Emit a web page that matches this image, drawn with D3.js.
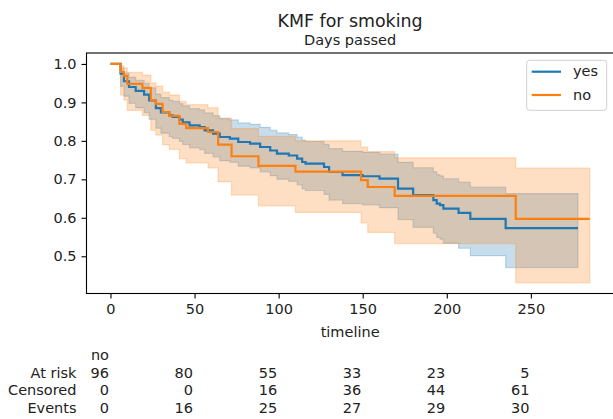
<!DOCTYPE html>
<html>
<head>
<meta charset="utf-8">
<script src="https://cdn.jsdelivr.net/npm/d3@7/dist/d3.min.js"></script>
<style>
  html, body { margin: 0; padding: 0; background: #fff; }
  svg { display: block; font-family: "DejaVu Sans", sans-serif; }
</style>
</head>
<body>
<svg id="chart" width="613" height="419"></svg>
<script>
// Kaplan-Meier estimates per smoking group (step times in days)
const yesTimes = [0, 6, 8, 11, 15, 20, 23, 27, 30, 35, 37, 41, 43, 47, 53, 56, 61, 65, 71, 76, 83, 89, 95, 99, 106, 111, 114, 116, 127, 130, 138, 150, 160, 171, 180, 192, 194, 196, 198, 207, 214, 235];
const yesSurvival = [1, .975, .955, .94, .93, .92, .905, .885, .874, .866, .862, .855, .848, .840, .836, .827, .819, .810, .806, .797, .793, .784, .775, .767, .762, .754, .745, .741, .732, .719, .711, .708, .702, .676, .659, .646, .637, .633, .624, .613, .597, .573];
const yesLower = [1, .9417, .9161, .8976, .8855, .8736, .8561, .833, .820, .8112, .8065, .7985, .7906, .7818, .7774, .7675, .7586, .7486, .7442, .7342, .7297, .7195, .7094, .7004, .6948, .6857, .6755, .671, .6607, .646, .6369, .6333, .6262, .5953, .5753, .5598, .5491, .5445, .534, .5208, .5016, .4702];
const yesUpper = [1, .9894, .9761, .9652, .9576, .9498, .9379, .9215, .9126, .9058, .9026, .8966, .8907, .8837, .8803, .8726, .8656, .8578, .8544, .8465, .8431, .8353, .8276, .8207, .8164, .8095, .8018, .7984, .7907, .7796, .7727, .7703, .7653, .7441, .7301, .7196, .7122, .7089, .7015, .6927, .680, .663];
const yesEnd = 278;

const noTimes = [0, 6, 8, 10, 19, 24, 27, 31, 35, 41, 45, 58, 64, 72, 88, 110, 149, 153, 169, 241];
const noSurvival = [1, .979, .969, .948, .9375, .906, .896, .875, .865, .844, .833, .823, .790, .760, .735, .720, .698, .680, .657, .597];
const noLower = [1, .919, .906, .879, .866, .8275, .815, .790, .778, .754, .7425, .730, .694, .659, .631, .614, .587, .562, .533, .431];
const noUpper = [1, .995, .990, .978, .971, .950, .9425, .927, .919, .903, .894, .886, .859, .832, .812, .800, .784, .772, .756, .729];
const noEnd = 285;

// At-risk table for the "no" group
const tableTicks = [0, 50, 100, 150, 200, 250];
const atRisk = [96, 80, 55, 33, 23, 5];
const censored = [0, 0, 16, 36, 44, 61];
const events = [0, 16, 25, 27, 29, 30];

const yTicks = [0.5, 0.6, 0.7, 0.8, 0.9, 1.0];

const BLUE = "#1f77b4", ORANGE = "#ff7f0e";
const FONT = 14.5;

const svg = d3.select("#chart");
svg.append("rect").attr("width", 613).attr("height", 419).attr("fill", "#fff");

const plotL = 86.5, plotR = 613.7, plotT = 53, plotB = 293.5;
const x = d3.scaleLinear().domain([-14.25, 299.25]).range([plotL, plotR]);
const y = d3.scaleLinear().domain([0.4032, 1.0284]).range([plotB, plotT]);

function toRows(times, s, lo, hi, end) {
  const rows = times.map((t, i) => ({ t, s: s[i], lo: lo[i], hi: hi[i] }));
  const last = rows[rows.length - 1];
  rows.push({ t: end, s: last.s, lo: last.lo, hi: last.hi });
  return rows;
}

const groups = [
  { name: "yes", color: BLUE, rows: toRows(yesTimes, yesSurvival, yesLower, yesUpper, yesEnd) },
  { name: "no", color: ORANGE, rows: toRows(noTimes, noSurvival, noLower, noUpper, noEnd) }
];

svg.append("clipPath").attr("id", "plotclip")
  .append("rect").attr("x", plotL).attr("y", plotT).attr("width", plotR - plotL).attr("height", plotB - plotT);

const plot = svg.append("g").attr("clip-path", "url(#plotclip)");

const line = d3.line().curve(d3.curveStepAfter).x(d => x(d.t)).y(d => y(d.s));
const band = d3.area().curve(d3.curveStepAfter).x(d => x(d.t)).y0(d => y(d.lo)).y1(d => y(d.hi));

// Confidence bands sit underneath every survival line
const bandLayer = plot.append("g");
const lineLayer = plot.append("g");

groups.forEach(g => {
  bandLayer.append("path").datum(g.rows)
    .attr("d", band)
    .attr("fill", g.color)
    .attr("fill-opacity", 0.25)
    .attr("stroke", g.color)
    .attr("stroke-opacity", 0.25)
    .attr("stroke-width", 1.2);
  lineLayer.append("path").datum(g.rows)
    .attr("d", line)
    .attr("fill", "none")
    .attr("stroke", g.color)
    .attr("stroke-width", 2.2);
});

// Axes
const xAxis = d3.axisBottom(x).tickValues(tableTicks).tickSize(5).tickPadding(5).tickFormat(d3.format("d"));
const yAxis = d3.axisLeft(y).tickValues(yTicks).tickSize(5).tickPadding(5).tickFormat(d3.format(".1f"));

const gx = svg.append("g").attr("transform", `translate(0,${plotB})`).call(xAxis);
const gy = svg.append("g").attr("transform", `translate(${plotL},0)`).call(yAxis);
[gx, gy].forEach(g => {
  g.select(".domain").remove();
  g.selectAll("line").attr("stroke", "#000").attr("stroke-width", 1.1);
  g.selectAll("text").attr("fill", "#222").style("font-size", FONT + "px").style("font-family", "DejaVu Sans");
});

// Frame
svg.append("rect")
  .attr("x", plotL).attr("y", plotT)
  .attr("width", plotR - plotL).attr("height", plotB - plotT)
  .attr("fill", "none").attr("stroke", "#000").attr("stroke-width", 1.1);

// Titles
svg.append("text").attr("x", (plotL + plotR) / 2).attr("y", 26.5)
  .attr("text-anchor", "middle").attr("fill", "#222")
  .style("font-size", "17.4px").text("KMF for smoking");
svg.append("text").attr("x", (plotL + plotR) / 2).attr("y", 45)
  .attr("text-anchor", "middle").attr("fill", "#222")
  .style("font-size", FONT + "px").text("Days passed");

svg.append("text").attr("x", (plotL + plotR) / 2).attr("y", 336.5)
  .attr("text-anchor", "middle").attr("fill", "#222")
  .style("font-size", FONT + "px").text("timeline");

// Legend
const lg = svg.append("g");
lg.append("rect").attr("x", 526.7).attr("y", 60.3).attr("width", 80).attr("height", 50)
  .attr("rx", 3).attr("fill", "#fff").attr("fill-opacity", 0.8)
  .attr("stroke", "#d0d0d0").attr("stroke-width", 1);
groups.forEach((g, i) => {
  const cy = 71.7 + i * 23.3;
  lg.append("line").attr("x1", 531.7).attr("x2", 561).attr("y1", cy).attr("y2", cy)
    .attr("stroke", g.color).attr("stroke-width", 2.2);
  lg.append("text").attr("x", 573).attr("y", cy + 4.5).attr("fill", "#222")
    .style("font-size", FONT + "px").text(g.name);
});

// At-risk table
const tbl = svg.append("g").style("font-size", FONT + "px").attr("fill", "#222");
const rowY = [377.5, 395, 412.5];
const rowNames = ["At risk", "Censored", "Events"];
const rowData = [atRisk, censored, events];
rowNames.forEach((name, r) => {
  tbl.append("text").attr("x", 76.5).attr("y", rowY[r]).attr("text-anchor", "end").text(name);
  tableTicks.forEach((t, i) => {
    tbl.append("text").attr("x", x(t) - 1.5).attr("y", rowY[r]).attr("text-anchor", "end").text(rowData[r][i]);
  });
});
tbl.append("text").attr("x", x(0) - 1.5).attr("y", 360).attr("text-anchor", "end").text("no");
</script>
</body>
</html>
